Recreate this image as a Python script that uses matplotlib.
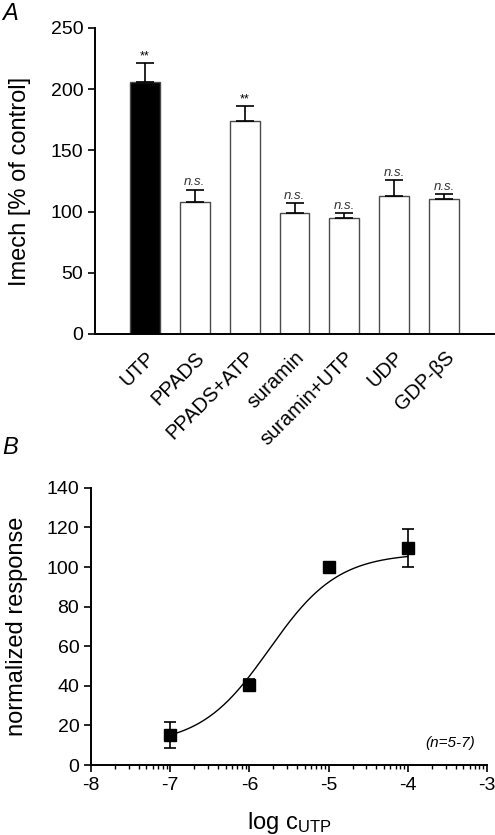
import numpy as np
import matplotlib
matplotlib.use("Agg")
import matplotlib.pyplot as plt

plt.rcParams['font.family'] = ['Liberation Sans', 'DejaVu Sans']
plt.rcParams['mathtext.fontset'] = 'custom'
plt.rcParams['mathtext.rm'] = 'Liberation Sans'
plt.rcParams['mathtext.it'] = 'Liberation Sans:italic'
plt.rcParams['axes.unicode_minus'] = False

# panel A data
categories = ['UTP', 'PPADS', 'PPADS+ATP', 'suramin', 'suramin+UTP', 'UDP', 'GDP-βS']
values = [206, 108, 174, 99, 95, 113, 110]
errors = [15, 10, 12, 8, 4, 13, 4]
marks = ['**', 'n.s.', '**', 'n.s.', 'n.s.', 'n.s.', 'n.s.']

# panel B data
log_c = [-7, -6, -5, -4]
response = [15, 40.5, 100, 109.5]
resp_err = [6.5, 3, 0.5, 9.5]
# Hill fit parameters
bottom, top, log_ec50, hill = 10, 107, -5.75, 1.0

fig = plt.figure(figsize=(4.95, 8.35), dpi=100)

# ---- panel A
ax = fig.add_axes([0.192, 0.600, 0.806, 0.3665])
x = np.arange(len(categories))
colors = ['black'] + ['white'] * (len(categories) - 1)
ax.bar(x, values, width=0.6, color=colors, edgecolor='#4a4a4a', linewidth=1.0, zorder=2)
ax.errorbar(x, values, yerr=[np.zeros(len(errors)), errors], fmt='none',
            ecolor='black', elinewidth=1.2, capsize=6.5, capthick=1.2, zorder=3)
for xi, v, e, m in zip(x, values, errors, marks):
    if m == '**':
        ax.text(xi, v + e + 0.5, m, ha='center', va='bottom', fontsize=9)
    else:
        ax.text(xi, v + e + 1, m, ha='center', va='bottom', fontsize=9.5, style='italic', color='#333333')
ax.set_xlim(-1, 7)
ax.set_ylim(0, 250)
ax.set_yticks(np.arange(0, 251, 50))
ax.set_xticks(x)
ax.set_xticklabels(categories, rotation=45, ha='right', rotation_mode='anchor', fontsize=14.5)
ax.tick_params(axis='x', length=0, pad=10)
ax.tick_params(axis='y', direction='out', length=5, width=1.2, labelsize=14)
for s in ['top', 'right']:
    ax.spines[s].set_visible(False)
for s in ['left', 'bottom']:
    ax.spines[s].set_linewidth(1.4)
ax.set_ylabel('Imech [% of control]', fontsize=17)
ax.yaxis.set_label_coords(-0.16, 0.5)
fig.text(0.005, 0.998, 'A', fontsize=17, style='italic', ha='left', va='top')

# ---- panel B
bx = fig.add_axes([0.184, 0.0838, 0.800, 0.332])
xs = np.linspace(-7, -4, 200)
curve = bottom + (top - bottom) / (1 + 10 ** ((log_ec50 - xs) * hill))
bx.plot(xs, curve, color='black', linewidth=1.0)
bx.errorbar(log_c, response, yerr=resp_err, fmt='s', color='black', markersize=9,
            ecolor='black', elinewidth=1.2, capsize=4, capthick=1.2)
bx.set_xlim(-8, -3)
bx.set_ylim(0, 140)
bx.set_yticks(np.arange(0, 141, 20))
bx.set_xticks(np.arange(-8, -2, 1))
minor = [d + np.log10(k) for d in range(-8, -3) for k in range(2, 10)]
bx.set_xticks(minor, minor=True)
bx.tick_params(axis='both', which='major', direction='out', length=5, width=1.2, labelsize=14)
bx.tick_params(axis='x', which='minor', direction='out', length=3, width=1.0)
for s in ['top', 'right']:
    bx.spines[s].set_visible(False)
for s in ['left', 'bottom']:
    bx.spines[s].set_linewidth(1.4)
bx.set_ylabel('normalized response', fontsize=17)
bx.yaxis.set_label_coords(-0.16, 0.5)
bx.set_xlabel('log c$_{\\mathrm{UTP}}$', fontsize=17, labelpad=12)
bx.text(-3.15, 11, '(n=5-7)', ha='right', va='center', fontsize=11, style='italic')
fig.text(0.005, 0.478, 'B', fontsize=17, style='italic', ha='left', va='top')

fig.savefig('out.png', dpi=100)
